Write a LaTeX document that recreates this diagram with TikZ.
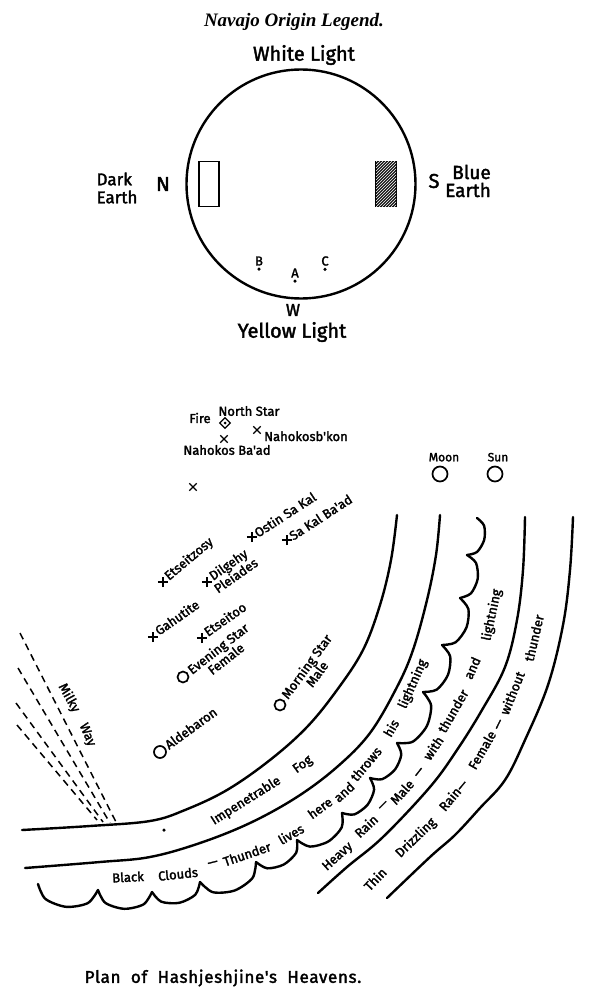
\documentclass[tikz,border=0pt]{standalone}
\usepackage{fontspec}
\setmainfont{Liberation Serif}
\newfontfamily\handfont{Fira Sans}[FakeBold=2]
\newfontfamily\capfont{Fira Sans}[LetterSpace=4, FakeBold=2, WordSpace=2]
\usepackage{tikz}
\usetikzlibrary{positioning, shapes.misc, shapes.geometric, patterns}
\tikzset{
  hand/.style={font=\handfont\fontsize{13}{15}\selectfont, inner sep=0pt, align=center},
  midhand/.style={font=\handfont\fontsize{17}{18}\selectfont, inner sep=0pt, align=center},
  bighand/.style={font=\handfont\fontsize{20}{21}\selectfont, inner sep=0pt, align=center},
  starname/.style={hand, anchor=base west},
  bandword/.style={font=\handfont\fontsize{13}{13}\selectfont, inner sep=0pt},
  xmark/.style={cross out, draw, line width=1.3pt, minimum size=6pt, inner sep=0pt},
  plusmark/.style={xmark, rotate=45, minimum size=6pt},
  ring/.style={circle, draw, line width=1.7pt, minimum size=11pt, inner sep=0pt},
  spot/.style={circle, fill, minimum size=3.5pt, inner sep=0pt},
  room/.style={rectangle, draw, line width=1.6pt, minimum width=20pt, minimum height=45pt},
  heaven/.style={draw=black, line width=2.4pt, line cap=round, line join=round},
  milky/.style={line width=1.5pt, dash pattern=on 7pt off 5pt},
}

\begin{document}
\begin{tikzpicture}[x=1pt, y=-1pt]
  \useasboundingbox (0,0) rectangle (606,1000);

  % Earth disc
  \node[font=\bfseries\itshape\fontsize{19}{21}\selectfont] (title) at (294,22) {Navajo Origin Legend.};
  \node[circle, draw, line width=2.4pt, minimum size=229pt, inner sep=0pt] (world) at (301,184) {};
  \node[bighand] (white) at (304,55) {White Light};
  \node[bighand] (yellow) at (292,332) {Yellow Light};
  \node[room] (dark) at (209,184) {};
  \node[room, fill=black!90, postaction={pattern=north east lines, pattern color=white}] (blue) at (386,184) {};
  \node[bighand] (north) at (163,184) {N};
  \node[bighand] (south) at (434,181) {S};
  \node[midhand, align=left] (darkname) at (117,188) {Dark\\Earth};
  \node[font=\handfont\fontsize{19}{18}\selectfont, inner sep=0pt, align=right] (bluename) at (468,181) {Blue\\Earth};
  \node[midhand] (west) at (293,310) {W};
  \node[hand] (letterb) at (259,261) {B};
  \node[spot, below=1.5pt of letterb] (dotb) {};
  \node[hand] (lettera) at (295,273) {A};
  \node[spot, below=1.5pt of lettera] (dota) {};
  \node[hand] (letterc) at (325,261) {C};
  \node[spot, below=1.5pt of letterc] (dotc) {};

  % Stars
  \node[diamond, draw, line width=1.3pt, minimum size=11pt, inner sep=0pt] (northstar) at (225,423) {};
  \node[spot, minimum size=3pt] (northstarcore) at (northstar) {};
  \node[hand] (northname) at (249,411) {North Star};
  \node[hand] (fire) at (200,418) {Fire};
  \node[xmark] (bahad) at (224,439) {};
  \node[hand] (bahadname) at (227,450) {Nahokos Ba'ad};
  \node[xmark] (bikon) at (257,430) {};
  \node[starname] (bikonname) at (264,441) {Nahokosb'kon};
  \node[xmark] (lone) at (193,487) {};

  \node[plusmark] (ostin) at (252,537) {};
  \node[starname, rotate=33] (ostinname) at (258,538) {Ostin Sa Kal};
  \node[plusmark] (sakal) at (287,540) {};
  \node[starname, rotate=33] (sakalname) at (293,541) {Sa Kal Ba'ad};
  \node[plusmark] (etseitzosy) at (163,582) {};
  \node[starname, rotate=40] (etseitzosyname) at (169,581) {Etseitzosy};
  \node[plusmark] (dilgehy) at (207,582) {};
  \node[starname, rotate=35] (dilgehyname) at (213,581) {Dilgehy};
  \node[hand, rotate=35, anchor=north] (pleiades) at (dilgehyname.south) {Pleiades};
  \node[plusmark] (gahutite) at (153,637) {};
  \node[starname, rotate=35] (gahutitename) at (159,636) {Gahutite};
  \node[plusmark] (etseitoo) at (202,638) {};
  \node[starname, rotate=35] (etseitooname) at (208,637) {Etseitoo};

  \node[ring] (evening) at (183,677) {};
  \node[starname, rotate=38] (eveningname) at (192,675) {Evening Star};
  \node[hand, rotate=38, anchor=north] (female) at (eveningname.south) {Female};
  \node[ring] (morning) at (280,705) {};
  \node[starname, rotate=54] (morningname) at (288,700) {Morning Star};
  \node[hand, rotate=54, anchor=north] (male) at (morningname.south) {Male};
  \node[ring, minimum size=12pt] (aldebaron) at (160,752) {};
  \node[starname, rotate=36] (aldebaronname) at (169,750) {Aldebaron};

  \node[ring, minimum size=15pt] (moon) at (440,474) {};
  \node[font=\handfont\fontsize{12}{12}\selectfont, inner sep=0pt, above=4pt of moon, xshift=4pt] (moonname) {Moon};
  \node[ring, minimum size=15pt] (sun) at (495,474) {};
  \node[font=\handfont\fontsize{12}{12}\selectfont, inner sep=0pt, above=4pt of sun, xshift=3pt] (sunname) {Sun};

  % Milky Way
  \draw[milky] (20,633) -- (116,822);
  \draw[milky] (18,668) -- (110,823);
  \draw[milky] (16,703) -- (103,822);
  \draw[milky] (17,725) -- (97,820);
  \node[hand, rotate=-61] (milkyname) at (69,698) {Milky};
  \node[hand, rotate=-67] (wayname) at (87,735) {Way};

  % Heavens
  \draw[heaven] plot[smooth, tension=0.6] coordinates {(22,830) (90,826) (150,821) (185,810) (227,790) (270,760) (307,727) (337,690) (363,650) (380,605) (391,560) (397,515)};
  \draw[heaven] plot[smooth, tension=0.6] coordinates {(25,868) (100,862) (150,857) (200,843) (250,823) (297,797) (337,767) (370,733) (397,687) (413,650) (427,600) (436,555) (440,515)};
  \draw[heaven] plot[smooth, tension=0.6] coordinates {(318,893) (347,867) (383,837) (430,787) (457,750) (482,710) (505,667) (517,620) (523,570) (525,517)};
  \draw[heaven] plot[smooth, tension=0.6] coordinates {(387,898) (430,857) (455,835) (480,808) (505,780) (525,740) (548,685) (563,625) (570,570) (573,517)};
  \node[spot] (fogdot) at (164,830) {};

  % Fog band
  \node[bandword, rotate=32] (impenetrable) at (246,801) {Impenetrable};
  \node[bandword, rotate=36] (fog) at (303,765) {Fog};

  % Black cloud band
  \node[bandword, rotate=3] (black) at (128,877) {Black};
  \node[bandword, rotate=6] (clouds) at (178,874) {Clouds};
  \node[bandword, rotate=14] (dasha) at (213,864) {—};
  \node[bandword, rotate=19] (thunder) at (247,854) {Thunder};
  \node[bandword, rotate=30] (lives) at (291,834) {lives};
  \node[bandword, rotate=36] (here) at (320,808) {here};
  \node[bandword, rotate=42] (anda) at (344,792) {and};
  \node[bandword, rotate=50] (throws) at (366,764) {throws};
  \node[bandword, rotate=60] (his) at (391,728) {his};
  \node[bandword, rotate=66] (lightninga) at (413,684) {lightning};

  % Heavy rain band
  \node[bandword, rotate=42] (heavy) at (338,857) {Heavy};
  \node[bandword, rotate=43] (raina) at (366,826) {Rain};
  \node[bandword, rotate=45] (dashb) at (384,806) {—};
  \node[bandword, rotate=48] (male) at (402,792) {Male};
  \node[bandword, rotate=52] (dashc) at (420,773) {—};
  \node[bandword, rotate=56] (with) at (433,748) {with};
  \node[bandword, rotate=60] (thundera) at (453,711) {thunder};
  \node[bandword, rotate=66] (andb) at (472,668) {and};
  \node[bandword, rotate=78] (lightningb) at (492,615) {lightning};

  % Thin rain band
  \node[bandword, rotate=46] (thin) at (375,879) {Thin};
  \node[bandword, rotate=44] (drizzling) at (416,838) {Drizzling};
  \node[bandword, rotate=50] (rainb) at (453,795) {Rain—};
  \node[bandword, rotate=60] (femaleb) at (482,750) {Female};
  \node[bandword, rotate=64] (dashd) at (500,725) {—};
  \node[bandword, rotate=68] (without) at (512,693) {without};
  \node[bandword, rotate=77] (thunderb) at (534,638) {thunder};

  % Caption
  \node[font=\capfont\fontsize{17}{19}\selectfont, inner sep=0pt] (plan) at (223,978) {Plan of Hashjeshjine's Heavens.};

  % Cloud edge, drawn last
  \begin{scope}[line width=2.4pt, line cap=round, line join=round]
    \draw plot[smooth] coordinates {(38,884) (45.4,898.9) (66,906.8) (87.8,903.1) (98,890)};
    \draw plot[smooth] coordinates {(98,890) (105.4,902.9) (124.3,908.8) (143.6,904.3) (152,892)};
    \draw plot[smooth] coordinates {(152,892) (161.3,901.7) (179.3,902.8) (195.3,894.7) (200,882)};
    \draw plot[smooth] coordinates {(200,882) (212.9,892.2) (234.6,890.5) (252.5,878) (256,862)};
    \draw plot[smooth] coordinates {(256,862) (267.2,868.3) (283.8,864.5) (296.2,852.7) (297,840)};
    \draw plot[smooth] coordinates {(297,840) (309.9,846.6) (328.4,841.4) (341.7,827.4) (342,813)};
    \draw plot[smooth] coordinates {(342,813) (354.3,814.4) (367.6,804.7) (374.1,789.6) (370,778)};
    \draw plot[smooth] coordinates {(370,778) (382.1,779.2) (395.1,769.4) (401.3,754.4) (397,743)};
    \draw plot[smooth] coordinates {(397,743) (412.7,741.7) (426.8,726.1) (431.1,705.5) (423,692)};
    \draw plot[smooth] coordinates {(423,692) (436.8,689.6) (448,674.8) (450.2,656.4) (442,645)};
    \draw plot[smooth] coordinates {(442,645) (455.6,642.3) (466.5,627.4) (468.4,609.1) (460,598)};
    \draw plot[smooth] coordinates {(460,598) (471,593.3) (477.7,578.8) (476,562.9) (467,555)};
    \draw plot[smooth] coordinates {(467,555) (477.1,551.9) (484.2,539.8) (484.1,525.7) (477,518)};
  \end{scope}

\end{tikzpicture}
\end{document}
